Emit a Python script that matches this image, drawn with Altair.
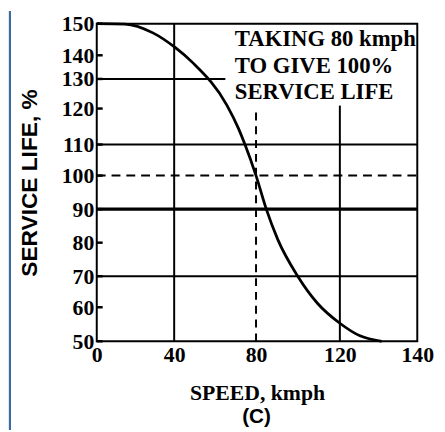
import altair as alt
import pandas as pd

# ---- data ----
speed = [0, 14.6, 29, 40.6, 48.9, 65.8, 71.4, 74.6, 80, 84.9, 90.4, 99.9, 109.3, 120, 125.2, 130.8]
life = [150, 149.9, 147.1, 142.4, 137, 121.1, 114.5, 110, 100, 90, 80.9, 70, 61.3, 55.3, 51.6, 50]

x_ticks = [0, 40, 80, 120, 140]
y_ticks = [50, 60, 70, 80, 90, 100, 110, 120, 130, 140, 150]

h_solid_y = [130, 110, 70]
h_solid_x_end = [65, 140, 140]
h_thick_y = [90]
h_dash_y = [100]
v_solid_x = [40, 120]
v_solid_y_top = [150, 121]
v_dash_x = [80]
v_dash_y_top = [120]

note_lines = ["TAKING 80 kmph", "TO GIVE 100%", "SERVICE LIFE"]
panel_label = ["(C)"]

# ---- layout ----
W, H = 325, 322
xs = alt.Scale(domain=x_ticks, range=[0, 78.5, 161.5, 246.5, 325], nice=False, zero=False)
ys = alt.Scale(domain=y_ticks,
               range=[322, 287.5, 256, 222, 188, 154, 122.5, 86, 56, 32, 0],
               nice=False, zero=False)

xaxis = alt.Axis(values=x_ticks, title="SPEED, kmph", grid=False, domain=False, ticks=False,
                 labelFont="Liberation Serif", labelFontSize=22, labelFontWeight="bold",
                 labelColor="black",
                 labelPadding=4, labelFlush=False, labelOverlap=False,
                 titleFont="Liberation Serif", titleFontWeight="bold", titleFontSize=22,
                 titleColor="black", titleY=59, titleBaseline="alphabetic")
yaxis = alt.Axis(values=y_ticks, title="SERVICE LIFE, %", grid=False, domain=False, ticks=False,
                 labelFont="Liberation Serif", labelFontSize=22, labelFontWeight="bold",
                 labelColor="black",
                 labelPadding=3, labelOverlap=False, labelFlush=False,
                 titleFont="Liberation Sans", titleFontWeight="bold", titleFontSize=23,
                 titleColor="black", titleX=-56, titleY=161, titleBaseline="bottom")


def X(f):
    return alt.X(f, type="quantitative", scale=xs, axis=xaxis)


def Y(f):
    return alt.Y(f, type="quantitative", scale=ys, axis=yaxis)


curve_df = pd.DataFrame({"speed": speed, "life": life})
hs_df = pd.DataFrame({"y": h_solid_y, "x0": [x_ticks[0]] * len(h_solid_y), "x1": h_solid_x_end})
ht_df = pd.DataFrame({"y": h_thick_y, "x0": [x_ticks[0]], "x1": [x_ticks[-1]]})
hd_df = pd.DataFrame({"y": h_dash_y, "x0": [x_ticks[0]], "x1": [x_ticks[-1]]})
vs_df = pd.DataFrame({"x": v_solid_x, "y0": [y_ticks[0]] * len(v_solid_x), "y1": v_solid_y_top})
vd_df = pd.DataFrame({"x": v_dash_x, "y0": [y_ticks[0]], "y1": v_dash_y_top})
tick_df = pd.DataFrame({"y": y_ticks})
note_df = pd.DataFrame({"t": ["\n".join(note_lines)]})
panel_df = pd.DataFrame({"t": panel_label})

h_solid = alt.Chart(hs_df).mark_rule(color="black", strokeWidth=2).encode(
    x=X("x0"), x2="x1", y=Y("y"))
h_thick = alt.Chart(ht_df).mark_rule(color="black", strokeWidth=3.2).encode(
    x=X("x0"), x2="x1", y=Y("y"))
h_dash = alt.Chart(hd_df).mark_rule(color="black", strokeWidth=2, strokeDash=[9, 6]).encode(
    x=X("x0"), x2="x1", y=Y("y"))
v_solid = alt.Chart(vs_df).mark_rule(color="black", strokeWidth=2).encode(
    x=X("x"), y=Y("y0"), y2="y1")
v_dash = alt.Chart(vd_df).mark_rule(color="black", strokeWidth=2, strokeDash=[8, 6]).encode(
    x=X("x"), y=Y("y0"), y2="y1")
ticks = alt.Chart(tick_df).mark_rule(color="black", strokeWidth=2.5).encode(
    y=Y("y"), x=alt.value(0), x2=alt.value(6))
curve = alt.Chart(curve_df).mark_line(color="black", strokeWidth=2.8, interpolate="monotone").encode(
    x=X("speed"), y=Y("life"))
note = alt.Chart(note_df).mark_text(
    align="left", baseline="alphabetic", lineBreak="\n", lineHeight=26.5,
    font="Liberation Serif", fontWeight="bold", fontSize=23, color="black").encode(
    text="t:N", x=alt.value(140), y=alt.value(23))
panel = alt.Chart(panel_df).mark_text(
    align="center", baseline="alphabetic", font="Liberation Sans", fontWeight="bold",
    fontSize=21, color="black").encode(text="t:N", x=alt.value(162), y=alt.value(405))
border = alt.Chart(tick_df).mark_rule(color="#3a6c9c", strokeWidth=2).encode(
    x=alt.value(-88), y=alt.value(-13), y2=alt.value(420))

chart = alt.layer(h_solid, h_thick, h_dash, v_solid, v_dash, ticks, curve, note, panel, border).properties(
    width=W, height=H,
    autosize=alt.AutoSizeParams(type="none"),
    padding={"left": 90, "top": 13, "right": 20, "bottom": 87},
    background="white",
).configure_view(stroke="black", strokeWidth=2)

chart.save("out.html", embed_options={"renderer": "svg", "actions": False})
